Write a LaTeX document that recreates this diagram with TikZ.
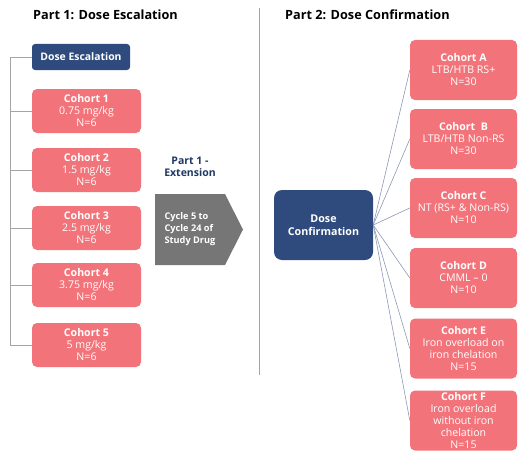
\documentclass[tikz,border=0pt]{standalone}
\usepackage{fontspec}
\setmainfont{Open Sans}

\definecolor{cohortpink}{RGB}{242,116,122}
\definecolor{doseblue}{RGB}{47,75,125}
\definecolor{extgray}{RGB}{118,118,118}
\definecolor{extnavy}{RGB}{31,56,100}
\definecolor{linkgray}{RGB}{140,152,178}
\definecolor{rulegray}{RGB}{165,165,165}

\tikzset{
  cohort/.style={fill=cohortpink, text=white, rounded corners=5pt, align=center,
    inner sep=0pt, font=\fontsize{10.6}{12}\selectfont},
  leftcohort/.style={cohort, minimum width=109pt, minimum height=44pt},
  rightcohort/.style={cohort, minimum width=107pt, minimum height=60pt},
  dosebox/.style={fill=doseblue, text=white, align=center, inner sep=0pt,
    font=\bfseries\fontsize{10.4}{12}\selectfont},
  parttitle/.style={anchor=west, inner sep=0pt, font=\bfseries\fontsize{12.7}{15}\selectfont},
  bracket/.style={draw=rulegray, line width=0.9pt},
  link/.style={draw=linkgray, line width=0.6pt}
}

\begin{document}
\begin{tikzpicture}[x=1pt, y=-1pt]
\useasboundingbox (0,0) rectangle (518,452);

% Titles and divider
\node[parttitle] (title1) at (33,15) {Part 1: Dose Escalation};
\node[parttitle] (title2) at (285,15) {Part 2: Dose Confirmation};
\draw[draw=rulegray, line width=1pt] (259,8) -- (259,375);

% Part 1: dose escalation
\node[dosebox, rounded corners=3pt, minimum width=98pt, minimum height=26pt] (esc) at (81,57) {Dose Escalation};

\foreach \i/\y/\dose in {1/111/0.75, 2/170/1.5, 3/228/2.5, 4/285/3.75, 5/345/5} {
\node[leftcohort] (c\i) at (86.5,\y) {\textbf{Cohort \i}\\\dose{} mg/kg\\N=6};
}

% Bracket on the left
\coordinate (spine) at (10,0);
\draw[bracket] (esc.west) -| (spine |- c5.west) -- (c5.west);
\foreach \i in {1,...,4} {
\draw[bracket] (c\i.west) -- (c\i.west -| spine);
}

% Part 1 extension
\node[font=\bfseries\fontsize{10.5}{12.5}\selectfont, text=extnavy, align=center] (exttitle) at (190,167) {Part 1 -\\Extension};
\fill[extgray] (155,194) -- (225,194) -- (243,229.5) -- (225,265) -- (155,265) -- cycle;
\node[text=white, align=left, inner sep=0pt, font=\bfseries\fontsize{9.2}{12}\selectfont] (ext) at (190,229.5) {Cycle 5 to\\Cycle 24 of\\Study Drug};

% Part 2: dose confirmation
\node[dosebox, rounded corners=8pt, minimum width=99pt, minimum height=70pt, font=\bfseries\fontsize{10.7}{13}\selectfont] (conf) at (323.5,225) {Dose\\Confirmation};

\node[rightcohort] (ca) at (463.5,70) {\textbf{Cohort A}\\LTB/HTB RS+\\N=30};
\node[rightcohort] (cb) at (463.5,139) {\textbf{Cohort~ B}\\LTB/HTB Non-RS\\N=30};
\node[rightcohort] (cc) at (463.5,208) {\textbf{Cohort C}\\NT (RS+ \& Non-RS)\\N=10};
\node[rightcohort] (cd) at (463.5,278) {\textbf{Cohort D}\\CMML – 0\\N=10};
\node[rightcohort] (ce) at (463.5,348.5) {\textbf{Cohort E}\\Iron overload on\\iron chelation\\N=15};
\node[rightcohort] (cf) at (463.5,420.5) {\textbf{Cohort F}\\Iron overload\\without iron\\chelation\\N=15};

% Links to cohorts
\foreach \n in {ca,cb,cc,cd,ce,cf} {
\draw[link] (conf.east) -- (\n.west);
}

\end{tikzpicture}
\end{document}
